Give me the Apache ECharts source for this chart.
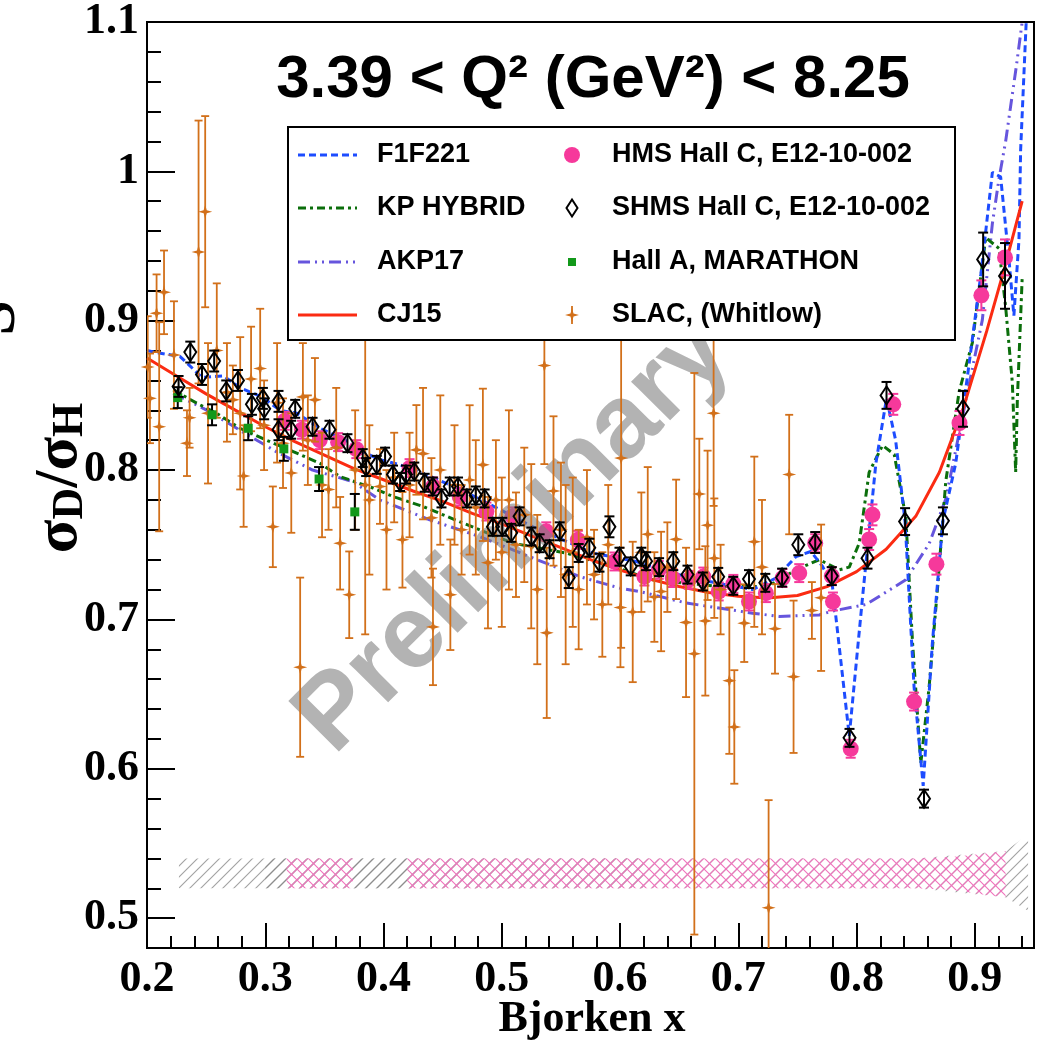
<!DOCTYPE html>
<html>
<head>
<meta charset="utf-8">
<script src="https://cdn.jsdelivr.net/npm/echarts@6/dist/echarts.min.js"></script>
<style>
  html, body { margin: 0; padding: 0; background: #fff; }
  #chart { width: 1041px; height: 1040px; }
</style>
</head>
<body>
<div id="chart"></div>
<script>
// ---- data ----
// SLAC (Whitlow)
const slacX = [
  0.2006,0.2025,0.2081,0.2103,0.2144,0.2228,0.2338,0.2360,0.2436,0.2492,
  0.2516,0.2590,0.2676,0.2726,0.2788,0.2817,0.2880,0.2957,0.2990,0.3064,
  0.3100,0.3150,0.3220,0.3295,0.3318,0.3360,0.3420,0.3480,0.3535,0.3600,
  0.3633,0.3710,0.3760,0.3845,0.3880,0.3970,0.4025,0.4090,0.4160,0.4220,
  0.4278,0.4334,0.4405,0.4418,0.4480,0.4565,0.4600,0.4660,0.4728,0.4780,
  0.4840,0.4883,0.4950,0.5000,0.5060,0.5120,0.5190,0.5249,0.5300,0.5360,
  0.5380,0.5437,0.5500,0.5540,0.5600,0.5650,0.5720,0.5780,0.5850,0.5900,
  0.6003,0.6009,0.6107,0.6180,0.6234,0.6290,0.6347,0.6400,0.6474,0.6558,
  0.6628,0.6670,0.6721,0.6740,0.6791,0.6797,0.6850,0.6924,0.6966,0.7050,
  0.7135,0.7200,0.7256,0.7310,0.7430,0.7467,0.7622,0.7700];
const slacY = [
  0.869,0.848,0.905,0.829,0.919,0.877,0.818,0.835,0.946,0.973,
  0.838,0.880,0.852,0.847,0.838,0.796,0.861,0.868,0.830,0.762,
  0.845,0.818,0.798,0.668,0.849,0.820,0.847,0.790,0.787,0.815,
  0.751,0.7165,0.800,0.790,0.780,0.789,0.760,0.795,0.7533,0.790,
  0.8135,0.811,0.768,0.695,0.800,0.7165,0.790,0.760,0.7934,0.775,
  0.8035,0.738,0.780,0.745,0.780,0.750,0.770,0.749,0.720,0.870,
  0.691,0.786,0.760,0.730,0.745,0.720,0.755,0.730,0.710,0.750,
  0.708,0.808,0.705,0.745,0.757,0.715,0.7187,0.735,0.7536,0.698,
  0.677,0.784,0.699,0.763,0.838,0.741,0.720,0.659,0.628,0.6975,
  0.752,0.735,0.507,0.6937,0.797,0.6616,0.706,0.7145];
const slacErr = [
  0.034,0.030,0.026,0.070,0.028,0.036,0.022,0.020,0.088,0.064,
  0.047,0.045,0.033,0.023,0.051,0.034,0.035,0.040,0.030,0.027,
  0.040,0.030,0.040,0.060,0.036,0.030,0.028,0.035,0.027,0.040,
  0.031,0.029,0.040,0.100,0.050,0.025,0.040,0.030,0.032,0.035,
  0.030,0.044,0.040,0.039,0.050,0.037,0.040,0.030,0.050,0.045,
  0.051,0.044,0.040,0.050,0.060,0.035,0.045,0.055,0.050,0.066,
  0.057,0.050,0.045,0.060,0.050,0.040,0.045,0.030,0.035,0.040,
  0.040,0.127,0.047,0.040,0.045,0.030,0.040,0.030,0.040,0.050,
  0.188,0.037,0.050,0.050,0.062,0.040,0.030,0.049,0.038,0.026,
  0.057,0.045,0.072,0.030,0.040,0.051,0.019,0.049];

// SHMS Hall C
const shmsX = [
  0.2267,0.2366,0.2465,0.2568,0.267,0.2769,0.2887,0.298,0.2991,0.3112,
  0.3112,0.3219,0.3253,0.34,0.3543,0.3695,0.3824,0.3853,0.3943,0.4013,
  0.408,0.414,0.419,0.426,0.4348,0.4417,0.449,0.456,0.463,0.4705,
  0.478,0.4855,0.4925,0.5004,0.508,0.515,0.525,0.532,0.5404,0.549,
  0.5566,0.565,0.574,0.5826,0.591,0.5995,0.609,0.618,0.622,0.633,
  0.645,0.657,0.670,0.683,0.6957,0.709,0.7228,0.737,0.7507,0.765,
  0.779,0.794,0.8092,0.8253,0.841,0.857,0.873,0.890,0.907,0.9255];
const shmsY = [
  0.856,0.879,0.864,0.873,0.853,0.860,0.844,0.848,0.841,0.846,
  0.827,0.827,0.841,0.829,0.827,0.818,0.808,0.802,0.8035,0.809,
  0.797,0.792,0.797,0.799,0.7915,0.789,0.781,0.789,0.789,0.781,
  0.783,0.781,0.762,0.762,0.758,0.769,0.7555,0.751,0.747,0.759,
  0.728,0.7445,0.748,0.738,0.762,0.742,0.7355,0.742,0.739,0.735,
  0.739,0.730,0.7254,0.7285,0.7225,0.727,0.7245,0.728,0.750,0.7515,
  0.729,0.6207,0.741,0.850,0.7655,0.580,0.766,0.841,0.941,0.930];
const shmsErr = [
  0.007,0.007,0.007,0.007,0.007,0.007,0.007,0.007,0.007,0.007,
  0.007,0.006,0.006,0.006,0.006,0.006,0.006,0.006,0.006,0.006,
  0.006,0.006,0.006,0.006,0.006,0.006,0.006,0.006,0.006,0.006,
  0.006,0.006,0.006,0.006,0.006,0.006,0.006,0.006,0.006,0.006,
  0.007,0.006,0.006,0.006,0.007,0.006,0.006,0.006,0.006,0.006,
  0.006,0.006,0.006,0.006,0.006,0.006,0.006,0.006,0.007,0.007,
  0.006,0.006,0.007,0.009,0.009,0.006,0.009,0.012,0.018,0.022];

// HMS Hall C
const hmsX = [
  0.3166,0.331,0.346,0.3616,0.377,0.422,0.442,0.4644,0.487,0.509,
  0.5376,0.5643,0.5953,0.6206,0.6327,0.6445,0.658,0.6704,0.6834,0.6958,
  0.709,0.7233,0.7374,0.7515,0.765,0.779,0.78,0.795,0.8106,0.8134,
  0.831,0.8486,0.8675,0.887,0.9055,0.9255];
const hmsY = [
  0.833,0.827,0.820,0.8187,0.814,0.8013,0.789,0.7823,0.7722,0.769,
  0.759,0.7533,0.7388,0.7287,0.7332,0.7277,0.7265,0.7287,0.7187,0.7238,
  0.712,0.7176,0.7277,0.731,0.751,0.729,0.712,0.6134,0.7535,0.770,
  0.844,0.645,0.737,0.8315,0.917,0.9424];
const hmsErr = [
  0.006,0.006,0.006,0.006,0.006,0.006,0.006,0.006,0.006,0.006,
  0.006,0.006,0.006,0.006,0.006,0.006,0.006,0.006,0.006,0.006,
  0.006,0.006,0.006,0.006,0.006,0.006,0.006,0.006,0.007,0.007,
  0.007,0.006,0.007,0.008,0.010,0.012];

// Hall A, MARATHON
const halaX = [0.226, 0.255, 0.2856, 0.3157, 0.3455, 0.3757];
const halaY = [0.8485, 0.837, 0.828, 0.8142, 0.794, 0.772];
const halaErr = [0.007, 0.007, 0.008, 0.008, 0.008, 0.012];

// model curves
const f1X = [0.2,0.2057,0.228,0.2465,0.2648,0.2788,0.297,0.3126,0.3267,0.3464,0.3675,0.383,0.397,0.414,0.439,0.465,0.49,0.5263,0.5516,0.577,0.6136,0.639,0.665,0.6895,0.712,0.7318,0.7487,0.7613,0.7712,0.7796,0.7938,0.805,0.8163,0.8253,0.833,0.841,0.8486,0.8563,0.8641,0.873,0.8838,0.895,0.905,0.9148,0.9218,0.929,0.933,0.9373,0.9387,0.9445];
const f1Y = [0.880,0.879,0.876,0.862,0.863,0.855,0.849,0.840,0.838,0.828,0.820,0.812,0.807,0.8035,0.796,0.787,0.777,0.762,0.7533,0.7444,0.7388,0.732,0.727,0.7232,0.720,0.7277,0.742,0.7455,0.7355,0.722,0.622,0.7146,0.8045,0.848,0.82,0.7655,0.6546,0.5886,0.6846,0.766,0.8045,0.8704,0.9304,0.9993,0.9963,0.9394,0.9034,0.9543,1.0143,1.12];
const kpX = [0.2222,0.242,0.2589,0.2785,0.301,0.3236,0.3461,0.363,0.3911,0.408,0.4334,0.4672,0.5094,0.5544,0.5938,0.6276,0.684,0.7251,0.7487,0.7684,0.7853,0.7938,0.8022,0.8106,0.8219,0.8318,0.8416,0.8473,0.8543,0.8613,0.8684,0.8754,0.8867,0.8979,0.9092,0.9204,0.926,0.9317,0.9345,0.9359,0.9401];
const kpY = [0.8537,0.8448,0.838,0.828,0.820,0.8124,0.8046,0.7957,0.788,0.7823,0.7756,0.7645,0.751,0.7444,0.7355,0.7265,0.722,0.722,0.7332,0.740,0.7332,0.735,0.751,0.7985,0.8165,0.8105,0.7686,0.6846,0.6037,0.6546,0.7205,0.7925,0.8525,0.8854,0.9556,0.9484,0.9094,0.8584,0.7985,0.8464,0.9304];
const akpX = [0.2222,0.25,0.28,0.31,0.34,0.374,0.3968,0.439,0.4813,0.5235,0.5657,0.5995,0.6164,0.6558,0.712,0.7346,0.7684,0.7796,0.808,0.8416,0.8613,0.8754,0.8923,0.9063,0.9148,0.9204,0.926,0.935,0.945];
const akpY = [0.8515,0.8403,0.826,0.812,0.800,0.7923,0.780,0.7667,0.7555,0.742,0.7287,0.721,0.7187,0.711,0.7042,0.702,0.703,0.7056,0.710,0.7265,0.7506,0.7806,0.8464,0.9004,0.965,0.995,1.02,1.07,1.13];
const cjX = [0.2,0.225,0.25,0.275,0.3,0.325,0.35,0.375,0.4,0.425,0.45,0.475,0.5,0.525,0.55,0.575,0.6,0.625,0.65,0.675,0.7,0.725,0.75,0.775,0.8,0.825,0.85,0.87,0.89,0.91,0.925,0.94];
const cjY = [0.875,0.863,0.851,0.840,0.829,0.819,0.810,0.801,0.7935,0.786,0.779,0.771,0.764,0.756,0.748,0.740,0.733,0.727,0.722,0.718,0.7155,0.7143,0.716,0.722,0.732,0.747,0.769,0.7985,0.841,0.893,0.935,0.98];

// systematic bands
const grayX = [0.227, 0.85, 0.926, 0.945];
const grayLo = [0.52, 0.52, 0.514, 0.505];
const grayHi = [0.54, 0.54, 0.545, 0.556];
const gray2X = [0.30, 0.62];
const gray2Lo = [0.52, 0.52];
const gray2Hi = [0.54, 0.54];
const pink1X = [0.318, 0.374];
const pink1Lo = [0.52, 0.52];
const pink1Hi = [0.54, 0.54];
const pink2X = [0.42, 0.85, 0.88, 0.905, 0.926];
const pink2Lo = [0.52, 0.52, 0.519, 0.516, 0.514];
const pink2Hi = [0.54, 0.54, 0.541, 0.543, 0.545];

// ---- helpers ----
const SERIF = '"Liberation Serif", "DejaVu Serif", serif';
const SANS = '"Liberation Sans", Arial, sans-serif';
const ORANGE = '#d2701a';
const PINK = '#f6399b';

function zip3(a, b, c) { return a.map((v, i) => [v, b[i], c[i]]); }
function zip2(a, b) { return a.map((v, i) => [v, b[i]]); }

// diagonal hatch tile ("/" lines, optionally crossed)
function hatch(color, both) {
  const n = 11;
  const c = document.createElement('canvas');
  c.width = n; c.height = n;
  const g = c.getContext('2d');
  g.strokeStyle = color; g.lineWidth = 1.1;
  const seg = (a, b, d, e) => { g.beginPath(); g.moveTo(a, b); g.lineTo(d, e); g.stroke(); };
  seg(-1, n + 1, n + 1, -1); seg(-1, 1, 1, -1); seg(n - 1, n + 1, n + 1, n - 1);
  if (both) { seg(-1, -1, n + 1, n + 1); seg(n - 1, -1, n + 1, 1); seg(-1, n - 1, 1, n + 1); }
  return c;
}

function band(xs, lo, hi, canvas, z) {
  return {
    type: 'custom', z: z, clip: true, silent: true,
    data: [[xs[0], lo[0]]], encode: { x: 0, y: 1 },
    renderItem: function (params, api) {
      const top = xs.map((x, i) => api.coord([x, hi[i]]));
      const bot = xs.map((x, i) => api.coord([x, lo[i]])).reverse();
      return { type: 'polygon', shape: { points: top.concat(bot) },
        style: { fill: { image: canvas, repeat: 'repeat' }, stroke: null } };
    }
  };
}

function errBars(rows, color, cap, lw, z) {
  return {
    type: 'custom', z: z, clip: true, silent: true,
    data: rows, encode: { x: 0, y: 1 },
    renderItem: function (params, api) {
      const x = api.value(0), y = api.value(1), e = api.value(2);
      const a = api.coord([x, y + e]), b = api.coord([x, y - e]);
      const st = { stroke: color, lineWidth: lw };
      return { type: 'group', children: [
        { type: 'line', shape: { x1: a[0], y1: a[1], x2: b[0], y2: b[1] }, style: st },
        { type: 'line', shape: { x1: a[0] - cap, y1: a[1], x2: a[0] + cap, y2: a[1] }, style: st },
        { type: 'line', shape: { x1: b[0] - cap, y1: b[1], x2: b[0] + cap, y2: b[1] }, style: st }
      ] };
    }
  };
}

function curve(xs, ys, color, dash, z) {
  return {
    type: 'line', z: z, data: zip2(xs, ys), showSymbol: false, silent: true,
    lineStyle: { color: color, width: 3, type: dash }, animation: false
  };
}

const STAR = 'path://M0,-10 L2.2,-2.2 L10,0 L2.2,2.2 L0,10 L-2.2,2.2 L-10,0 L-2.2,-2.2 Z';
const DIAMOND = 'path://M0,-10 L6,0 L0,10 L-6,0 Z';

const chart = echarts.init(document.getElementById('chart'));

const tickStyle = { color: '#000', width: 2 };
const labelStyle = { fontSize: 44, fontFamily: SERIF, fontWeight: 'bold', color: '#000' };
const isTenth = v => Math.abs(v * 10 - Math.round(v * 10)) < 1e-6;

const option = {
  backgroundColor: '#fff',
  animation: false,
  grid: { left: 147, right: 7, top: 22, bottom: 92, show: true, borderColor: '#000', borderWidth: 2 },
  xAxis: [
    { type: 'value', min: 0.2, max: 0.95, interval: 0.1,
      axisLine: { lineStyle: tickStyle }, splitLine: { show: false },
      axisTick: { inside: true, length: 25, lineStyle: tickStyle },
      axisLabel: Object.assign({ margin: 10, formatter: v => isTenth(v) ? v.toFixed(1) : '' }, labelStyle) },
    { type: 'value', min: 0.2, max: 0.95, interval: 0.02, position: 'bottom',
      axisLine: { show: false }, splitLine: { show: false }, axisLabel: { show: false },
      axisTick: { inside: true, length: 12, lineStyle: tickStyle } }
  ],
  yAxis: [
    { type: 'value', min: 0.48, max: 1.1, splitNumber: 5,
      axisLine: { lineStyle: tickStyle }, splitLine: { show: false },
      axisTick: { inside: true, length: 28, lineStyle: tickStyle },
      axisLabel: Object.assign({ margin: 8,
        formatter: v => !isTenth(v) ? '' : (Math.abs(v - 1) < 1e-6 ? '1' : v.toFixed(1)) }, labelStyle) },
    { type: 'value', min: 0.48, max: 1.1, interval: 0.02, position: 'left',
      axisLine: { show: false }, splitLine: { show: false }, axisLabel: { show: false },
      axisTick: { inside: true, length: 14, lineStyle: tickStyle } }
  ],
  series: [
    band(grayX, grayLo, grayHi, hatch('#a0a0a0', false), 1),
    band(gray2X, gray2Lo, gray2Hi, hatch('#8c8c8c', false), 1),
    band(pink1X, pink1Lo, pink1Hi, hatch('#f070bb', true), 1),
    band(pink2X, pink2Lo, pink2Hi, hatch('#f070bb', true), 1),
    curve(akpX, akpY, '#6655dd', [12, 5, 2, 5, 2, 5], 2),
    curve(kpX, kpY, '#0b6e0b', [8, 4, 3, 4], 2),
    curve(f1X, f1Y, '#1d4cff', [7, 4], 2),
    curve(cjX, cjY, '#fb2b12', 'solid', 2),
    errBars(zip3(hmsX, hmsY, hmsErr), PINK, 5, 2, 3),
    { type: 'scatter', z: 3, data: zip2(hmsX, hmsY), symbol: 'circle', symbolSize: 16,
      itemStyle: { color: PINK, opacity: 1 }, silent: true },
    errBars(zip3(slacX, slacY, slacErr), ORANGE, 4, 1.8, 5),
    { type: 'scatter', z: 5, data: zip2(slacX, slacY), symbol: STAR, symbolSize: 14,
      itemStyle: { color: ORANGE, opacity: 1 }, silent: true },
    errBars(zip3(halaX, halaY, halaErr), '#000', 5, 2, 6),
    { type: 'scatter', z: 6, data: zip2(halaX, halaY), symbol: 'rect', symbolSize: 9,
      itemStyle: { color: '#12991a', opacity: 1 }, silent: true },
    errBars(zip3(shmsX, shmsY, shmsErr), '#000', 5, 2, 7),
    { type: 'scatter', z: 7, data: zip2(shmsX, shmsY), symbol: DIAMOND, symbolSize: [12, 18],
      itemStyle: { color: 'rgba(0,0,0,0)', borderColor: '#000', borderWidth: 2, opacity: 1 }, silent: true }
  ],
  graphic: [
    // watermark
    { type: 'text', x: 514, y: 536, rotation: Math.PI / 4, z: 4, silent: true,
      style: { text: 'Preliminary', fontSize: 104, fontWeight: 'bold', fontFamily: SANS,
        fill: 'rgba(128,128,128,0.6)', align: 'center', verticalAlign: 'middle' } },
    // title
    { type: 'text', x: 593, y: 80, z: 20,
      style: { text: '3.39 < Q\u00b2 (GeV\u00b2) < 8.25', fontSize: 60, fontWeight: 'bold', fontFamily: SANS,
        fill: '#000', align: 'center', verticalAlign: 'middle' } },
    // axis titles
    { type: 'text', x: 60, y: 478, rotation: Math.PI / 2, z: 20,
      style: { text: '{s|\u03c3}{b|D}{s|/\u03c3}{b|H}', align: 'center', verticalAlign: 'middle',
        rich: {
          s: { fontSize: 62, fontFamily: SERIF, fontWeight: 'bold', fill: '#000', lineHeight: 66 },
          b: { fontSize: 44, fontFamily: SERIF, fontWeight: 'bold', fill: '#000', lineHeight: 44, verticalAlign: 'bottom' }
        } } },
    { type: 'text', x: 592, y: 1020, z: 20,
      style: { text: 'Bjorken x', fontSize: 44, fontWeight: 'bold', fontFamily: SERIF, fill: '#000',
        align: 'center', verticalAlign: 'middle' } },
    { type: 'text', x: -3, y: 318, rotation: Math.PI / 2, z: 20,
      style: { text: 'S', fontSize: 64, fontWeight: 'bold', fontFamily: SERIF, fill: '#000',
        align: 'center', verticalAlign: 'middle' } },
    // legend
    { type: 'rect', z: 30, shape: { x: 288, y: 127, width: 667, height: 213 },
      style: { fill: '#fff', stroke: '#000', lineWidth: 2 } },
    { type: 'line', z: 31, shape: { x1: 298, y1: 155, x2: 357, y2: 155 }, style: { stroke: '#1d4cff', lineWidth: 3, lineDash: [7, 4] } },
    { type: 'line', z: 31, shape: { x1: 298, y1: 208, x2: 357, y2: 208 }, style: { stroke: '#0b6e0b', lineWidth: 3, lineDash: [8, 4, 3, 4] } },
    { type: 'line', z: 31, shape: { x1: 298, y1: 262, x2: 357, y2: 262 }, style: { stroke: '#6655dd', lineWidth: 3, lineDash: [12, 5, 2, 5, 2, 5] } },
    { type: 'line', z: 31, shape: { x1: 298, y1: 315, x2: 357, y2: 315 }, style: { stroke: '#fb2b12', lineWidth: 3 } },
    { type: 'circle', z: 31, shape: { cx: 572, cy: 155, r: 8 }, style: { fill: PINK } },
    { type: 'polygon', z: 31, shape: { points: [[572, 199.5], [577.5, 208], [572, 216.5], [566.5, 208]] },
      style: { fill: 'none', stroke: '#000', lineWidth: 2 } },
    { type: 'rect', z: 31, shape: { x: 568, y: 258, width: 8, height: 8 }, style: { fill: '#12991a' } },
    { type: 'line', z: 31, shape: { x1: 572, y1: 306, x2: 572, y2: 324 }, style: { stroke: ORANGE, lineWidth: 1.8 } },
    { type: 'polygon', z: 31, shape: { points: [[572, 308], [573.5, 313.5], [579, 315], [573.5, 316.5], [572, 322], [570.5, 316.5], [565, 315], [570.5, 313.5]] },
      style: { fill: ORANGE } },
    ...[['F1F221', 377, 155], ['KP HYBRID', 377, 208], ['AKP17', 377, 262], ['CJ15', 377, 315],
        ['HMS Hall C, E12-10-002', 612, 155], ['SHMS Hall C, E12-10-002', 612, 208],
        ['Hall A, MARATHON', 612, 262], ['SLAC, (Whitlow)', 612, 315]].map(t => ({
      type: 'text', x: t[1], y: t[2], z: 31,
      style: { text: t[0], fontSize: 27, fontWeight: 'bold', fontFamily: SANS, fill: '#000',
        align: 'left', verticalAlign: 'middle' } }))
  ]
};

chart.setOption(option);
</script>
</body>
</html>
